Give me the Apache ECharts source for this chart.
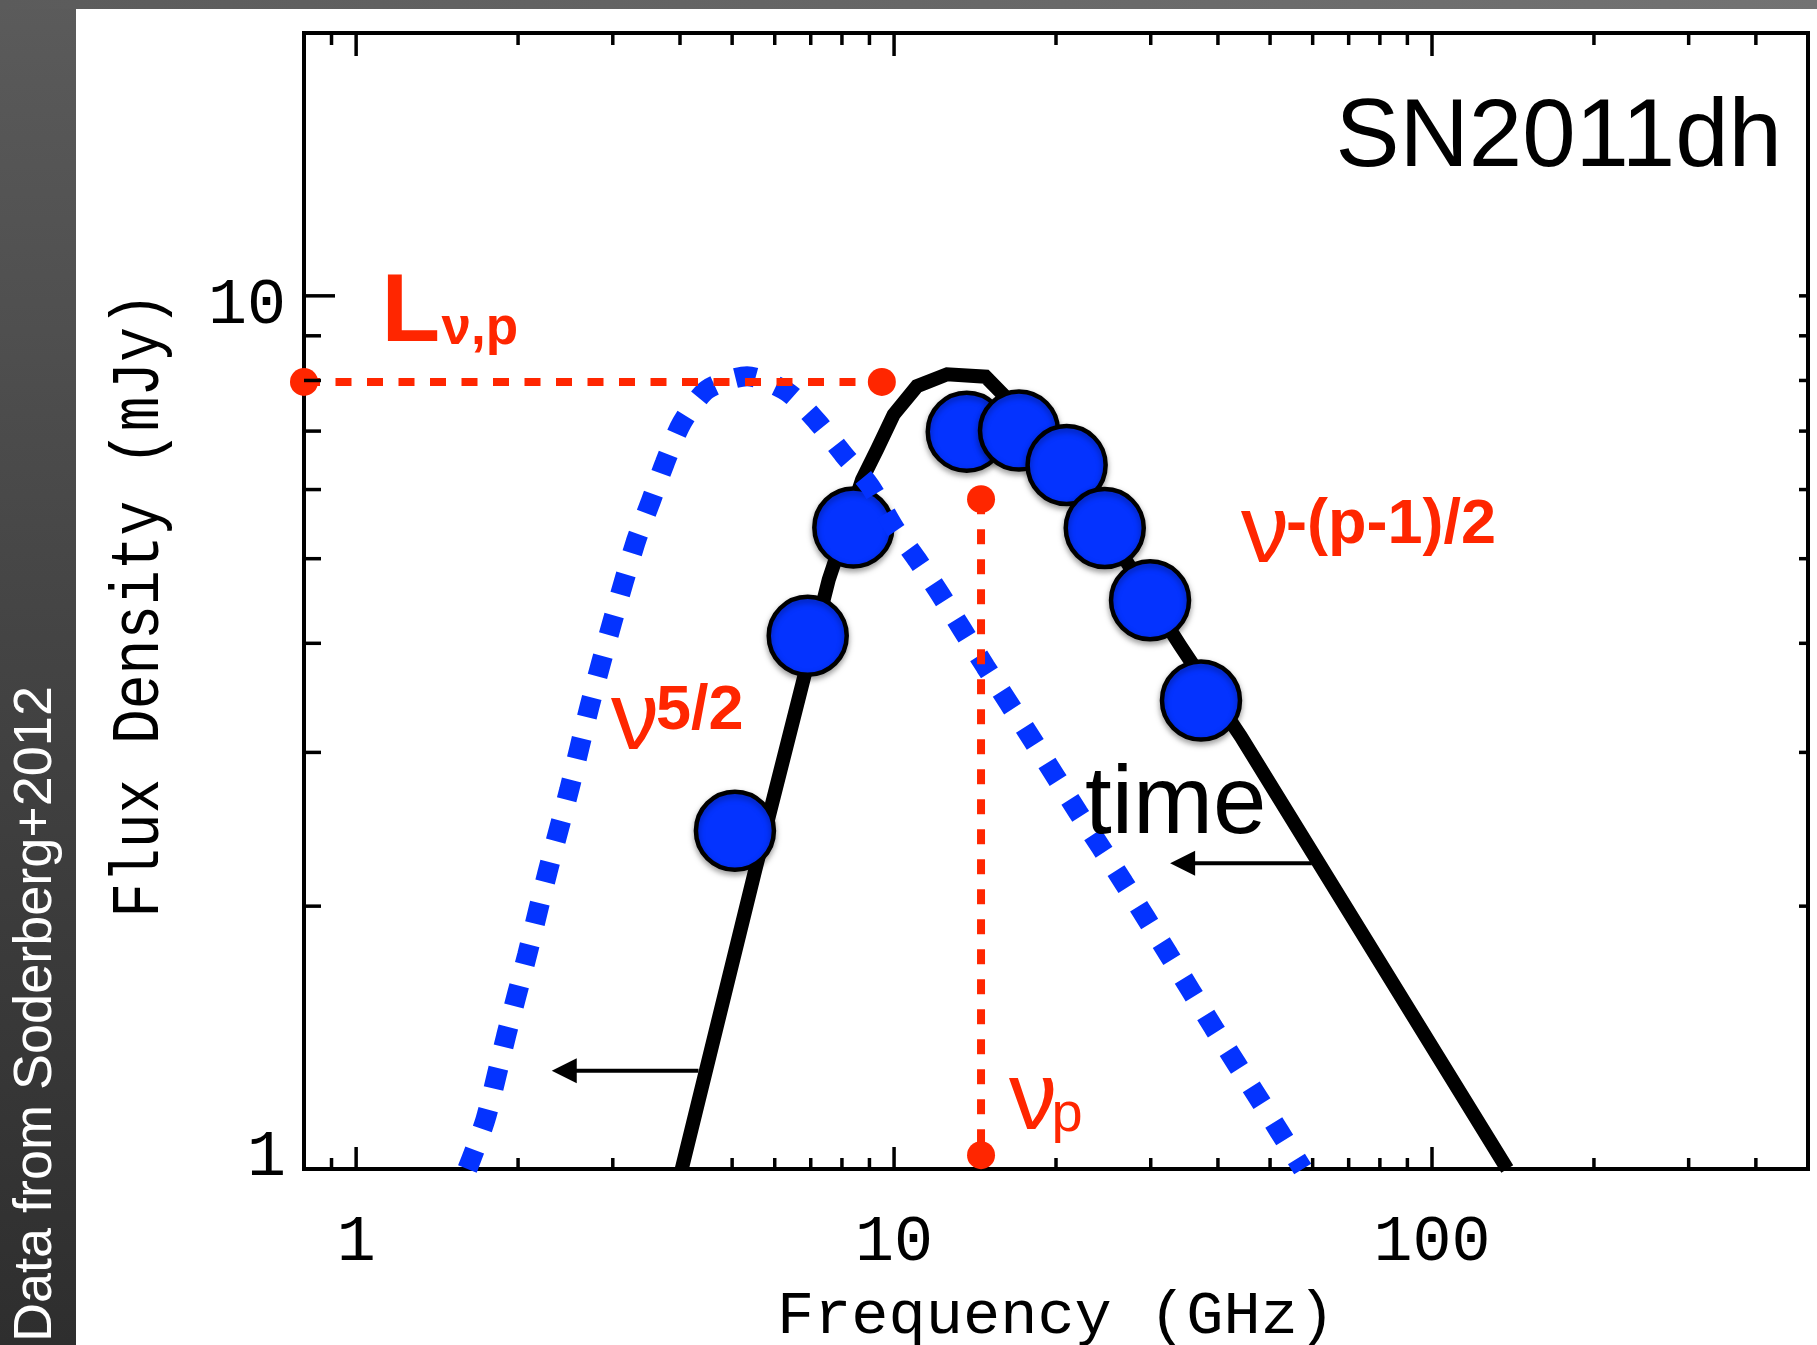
<!DOCTYPE html>
<html>
<head>
<meta charset="utf-8">
<title>SN2011dh radio spectrum</title>
<script src="https://cdn.jsdelivr.net/npm/echarts@6/dist/echarts.min.js"></script>
<style>
  html, body { margin: 0; padding: 0; }
  body { width: 1817px; height: 1345px; overflow: hidden; position: relative;
         background: linear-gradient(to bottom, #5b5b5b 0%, #454545 45%, #2e2e2e 100%); }
  #band { position: absolute; left: 0; top: 0; width: 1817px; height: 9px;
          background: linear-gradient(to right, #5b5b5b, #737373); }
  #panel { position: absolute; left: 76px; top: 9px; right: 0; bottom: 0; background: #fff; }
  #chart { position: absolute; left: 0; top: 0; width: 1817px; height: 1345px; }
</style>
</head>
<body>
<div id="band"></div>
<div id="panel"></div>
<div id="chart"></div>
<script>
// Plot ranges: frequency (GHz) and flux density (mJy), both logarithmic
const xRange = [0.8, 500];
const yRange = [1, 20];

// Measured flux densities of SN2011dh
const obsFreq = [5.06, 6.91, 8.40, 13.65, 17.07, 20.93, 24.64, 29.91, 37.2];
const obsFlux = [2.44, 4.08, 5.43, 6.99, 7.01, 6.40, 5.42, 4.48, 3.44];

// Self-absorbed synchrotron spectrum through the measurements
const modelFreq = [4.03, 5.52, 7.56, 8.72, 9.30, 9.98, 11.03, 12.55, 14.79, 16.0, 20.4, 26.4, 34.1, 44.1, 138];
const modelFlux = [1.0, 2.20, 4.73, 6.16, 6.67, 7.31, 7.88, 8.13, 8.08, 7.69, 6.36, 5.08, 3.97, 3.13, 1.0];

// The same spectrum at a later time, peak moved to lower frequency
const laterFreq = [1.61, 1.74, 1.90, 2.08, 2.27, 2.49, 2.72, 2.99, 3.31, 3.52, 3.75, 4.03, 4.49, 5.33, 6.32, 7.19, 8.06, 9.03, 9.98, 11.03, 12.19, 14.79, 18.08, 22.0, 26.7, 32.4, 39.3, 47.8, 57.5];
const laterFlux = [1.0, 1.14, 1.42, 1.76, 2.19, 2.72, 3.40, 4.22, 5.23, 5.79, 6.44, 7.15, 7.81, 8.09, 7.77, 7.18, 6.58, 6.05, 5.44, 4.99, 4.55, 3.76, 3.10, 2.56, 2.13, 1.76, 1.45, 1.20, 1.0];

// Guides for the peak flux (L_nu,p) and the peak frequency (nu_p)
const peakLevelFreq = [0.8, 9.49];
const peakLevelFlux = [7.97, 7.97];
const peakFreqFreq = [14.51, 14.51];
const peakFreqFlux = [5.85, 1.037];

// Arrows: the spectrum drifts to lower frequency with time
const arrowTailFreq = [4.33, 59.8];
const arrowHeadFreq = [2.31, 32.6];
const arrowFlux = [1.296, 2.239];

// Axis ticks and their labels
const xMajorTicks = [1, 10, 100];
const xMinorTicks = [0.9, 2, 3, 4, 5, 6, 7, 8, 9, 20, 30, 40, 50, 60, 70, 80, 90, 200, 300, 400];
const yMajorTicks = [10];
const yMinorTicks = [2, 3, 4, 5, 6, 7, 8, 9];
const xTickLabels = ['1', '10', '100'];
const yTickValues = [1, 10];
const yTickLabels = ['1', '10'];

const RED = '#ff2600';
const BLUE = '#0433ff';
const MONO = '"Liberation Mono", "DejaVu Sans Mono", monospace';
const SANS = '"Liberation Sans", Arial, Helvetica, sans-serif';

const zip = (xs, ys) => xs.map((x, i) => [x, ys[i]]);

// Inward tick marks on one side of the frame
function tickSeries(values, side, len) {
  const horizontal = side === 'bottom' || side === 'top';
  return {
    type: 'custom',
    coordinateSystem: 'cartesian2d',
    silent: true,
    z: 20,
    data: values.map(v => horizontal ? [v, yRange[0]] : [1, v]),
    renderItem(params, api) {
      const v = values[params.dataIndex];
      let p, dx = 0, dy = 0;
      if (side === 'bottom') { p = api.coord([v, yRange[0]]); dy = -len; }
      else if (side === 'top') { p = api.coord([v, yRange[1]]); dy = len; }
      else if (side === 'left') { p = api.coord([xRange[0], v]); dx = len; }
      else { p = api.coord([xRange[1], v]); dx = -len; }
      return {
        type: 'line',
        shape: { x1: p[0], y1: p[1], x2: p[0] + dx, y2: p[1] + dy },
        style: { stroke: '#000', lineWidth: 3.5 }
      };
    }
  };
}

function textEl(x, y, text, font, fill, extra) {
  return Object.assign({
    type: 'text', x: x, y: y, z: 50, silent: true,
    style: { text: text, font: font, fill: fill,
             align: 'left', textAlign: 'left',
             verticalAlign: 'middle', textVerticalAlign: 'middle' }
  }, extra || {});
}

const yLabelShift = [-11, 10];

const chart = echarts.init(document.getElementById('chart'), null, { renderer: 'canvas' });

chart.setOption({
  animation: false,
  backgroundColor: 'transparent',
  grid: {
    left: 304, top: 33, right: 9, bottom: 176,
    containLabel: false, outerBoundsMode: 'none',
    show: true, borderColor: '#000', borderWidth: 4, backgroundColor: 'transparent'
  },
  xAxis: {
    type: 'log', logBase: 10, min: xRange[0], max: xRange[1],
    axisLine: { show: false }, axisTick: { show: false },
    axisLabel: { show: false }, splitLine: { show: false }, minorTick: { show: false }
  },
  yAxis: {
    type: 'log', logBase: 10, min: yRange[0], max: yRange[1],
    axisLine: { show: false }, axisTick: { show: false },
    axisLabel: { show: false }, splitLine: { show: false }, minorTick: { show: false }
  },
  graphic: [
    textEl(36.3, 1342, 'Data from Soderberg+2012', '54px ' + SANS, '#ffffff', { rotation: Math.PI / 2 }),
    textEl(139.5, 605, 'Flux Density (mJy)', '62px ' + MONO, '#000',
      { rotation: Math.PI / 2, scaleX: 0.934, scaleY: 1.10,
        style: { text: 'Flux Density (mJy)', font: '62px ' + MONO, fill: '#000',
                 align: 'center', textAlign: 'center', verticalAlign: 'middle', textVerticalAlign: 'middle' } }),
    textEl(1056, 1316.5, 'Frequency (GHz)', '62px ' + MONO, '#000',
      { style: { text: 'Frequency (GHz)', font: '62px ' + MONO, fill: '#000',
                 align: 'center', textAlign: 'center', verticalAlign: 'middle', textVerticalAlign: 'middle' } }),
    textEl(1782, 140, 'SN2011dh', '96px ' + SANS, '#000',
      { style: { text: 'SN2011dh', font: '96px ' + SANS, fill: '#000',
                 align: 'right', textAlign: 'right', verticalAlign: 'middle', textVerticalAlign: 'middle' } }),
    textEl(1085, 807, 'time', '96px ' + SANS, '#000'),
    textEl(611, 723, 'ν', '96px ' + SANS, RED),
    textEl(656, 712, '5/2', 'bold 63px ' + SANS, RED),
    textEl(1241, 536, 'ν', '96px ' + SANS, RED),
    textEl(1286, 525.5, '-(p-1)/2', 'bold 63px ' + SANS, RED),
    textEl(1009, 1103, 'ν', '96px ' + SANS, RED),
    textEl(1051.4, 1115.5, 'p', '56px ' + SANS, RED),
    textEl(381.4, 315, 'L', 'bold 96px ' + SANS, RED),
    textEl(441.5, 329.5, 'ν,p', 'bold 53px ' + SANS, RED)
  ],
  series: [
    {
      name: 'model', type: 'line', silent: true, z: 2,
      data: zip(modelFreq, modelFlux),
      symbol: 'none', showSymbol: false,
      lineStyle: { color: '#000', width: 14, cap: 'butt', join: 'miter' }
    },
    {
      name: 'observed', type: 'scatter', silent: true, z: 3,
      data: zip(obsFreq, obsFlux),
      symbol: 'circle', symbolSize: 78,
      itemStyle: { color: BLUE, borderColor: '#000', borderWidth: 4.5, opacity: 1,
                   shadowBlur: 6, shadowColor: 'rgba(0,0,0,0.35)', shadowOffsetY: 3 }
    },
    {
      name: 'later', type: 'line', silent: true, z: 4,
      data: zip(laterFreq, laterFlux),
      symbol: 'none', showSymbol: false, smooth: 0.25,
      lineStyle: { color: BLUE, width: 20, type: [20.5, 22], cap: 'butt' }
    },
    {
      name: 'peakLevel', type: 'line', silent: true, z: 5, clip: false,
      data: zip(peakLevelFreq, peakLevelFlux),
      symbol: 'circle', symbolSize: 28, showAllSymbol: true,
      itemStyle: { color: RED, borderWidth: 0 },
      lineStyle: { color: RED, width: 8, type: [16, 15.5] }
    },
    {
      name: 'peakFreq', type: 'line', silent: true, z: 5, clip: false,
      data: zip(peakFreqFreq, peakFreqFlux),
      symbol: 'circle', symbolSize: 28, showAllSymbol: true,
      itemStyle: { color: RED, borderWidth: 0 },
      lineStyle: { color: RED, width: 8, type: [15, 15] }
    },
    {
      name: 'arrows', type: 'custom', coordinateSystem: 'cartesian2d', silent: true, z: 6,
      data: zip(arrowTailFreq, arrowFlux),
      renderItem(params, api) {
        const i = params.dataIndex;
        const a = api.coord([arrowTailFreq[i], arrowFlux[i]]);
        const b = api.coord([arrowHeadFreq[i], arrowFlux[i]]);
        const dir = Math.sign(b[0] - a[0]);
        const head = 25, half = 12.5;
        return {
          type: 'group',
          children: [
            { type: 'line', shape: { x1: a[0], y1: a[1], x2: b[0] - dir * head * 0.8, y2: b[1] },
              style: { stroke: '#000', lineWidth: 4 } },
            { type: 'polygon',
              shape: { points: [[b[0], b[1]], [b[0] - dir * head, b[1] - half], [b[0] - dir * head, b[1] + half]] },
              style: { fill: '#000' } }
          ]
        };
      }
    },
    tickSeries(xMajorTicks, 'bottom', 22),
    tickSeries(xMinorTicks, 'bottom', 11),
    tickSeries(xMajorTicks, 'top', 23),
    tickSeries(xMinorTicks, 'top', 12),
    tickSeries(yMajorTicks, 'left', 31),
    tickSeries(yMinorTicks, 'left', 17),
    tickSeries(yMajorTicks.concat(yMinorTicks), 'right', 9),
    {
      name: 'xLabels', type: 'custom', coordinateSystem: 'cartesian2d', silent: true, z: 20,
      data: xMajorTicks.map(v => [v, yRange[0]]),
      renderItem(params, api) {
        const p = api.coord([xMajorTicks[params.dataIndex], yRange[0]]);
        return { type: 'text', x: p[0], y: p[1] + 73.7,
          style: { text: xTickLabels[params.dataIndex], font: '65px ' + MONO, fill: '#000',
                   align: 'center', textAlign: 'center', verticalAlign: 'middle', textVerticalAlign: 'middle' } };
      }
    },
    {
      name: 'yLabels', type: 'custom', coordinateSystem: 'cartesian2d', silent: true, z: 20,
      data: yTickValues.map(v => [1, v]),
      renderItem(params, api) {
        const p = api.coord([xRange[0], yTickValues[params.dataIndex]]);
        return { type: 'text', x: p[0] - 18, y: p[1] + yLabelShift[params.dataIndex],
          style: { text: yTickLabels[params.dataIndex], font: '65px ' + MONO, fill: '#000',
                   align: 'right', textAlign: 'right', verticalAlign: 'middle', textVerticalAlign: 'middle' } };
      }
    }
  ]
});
</script>
</body>
</html>
